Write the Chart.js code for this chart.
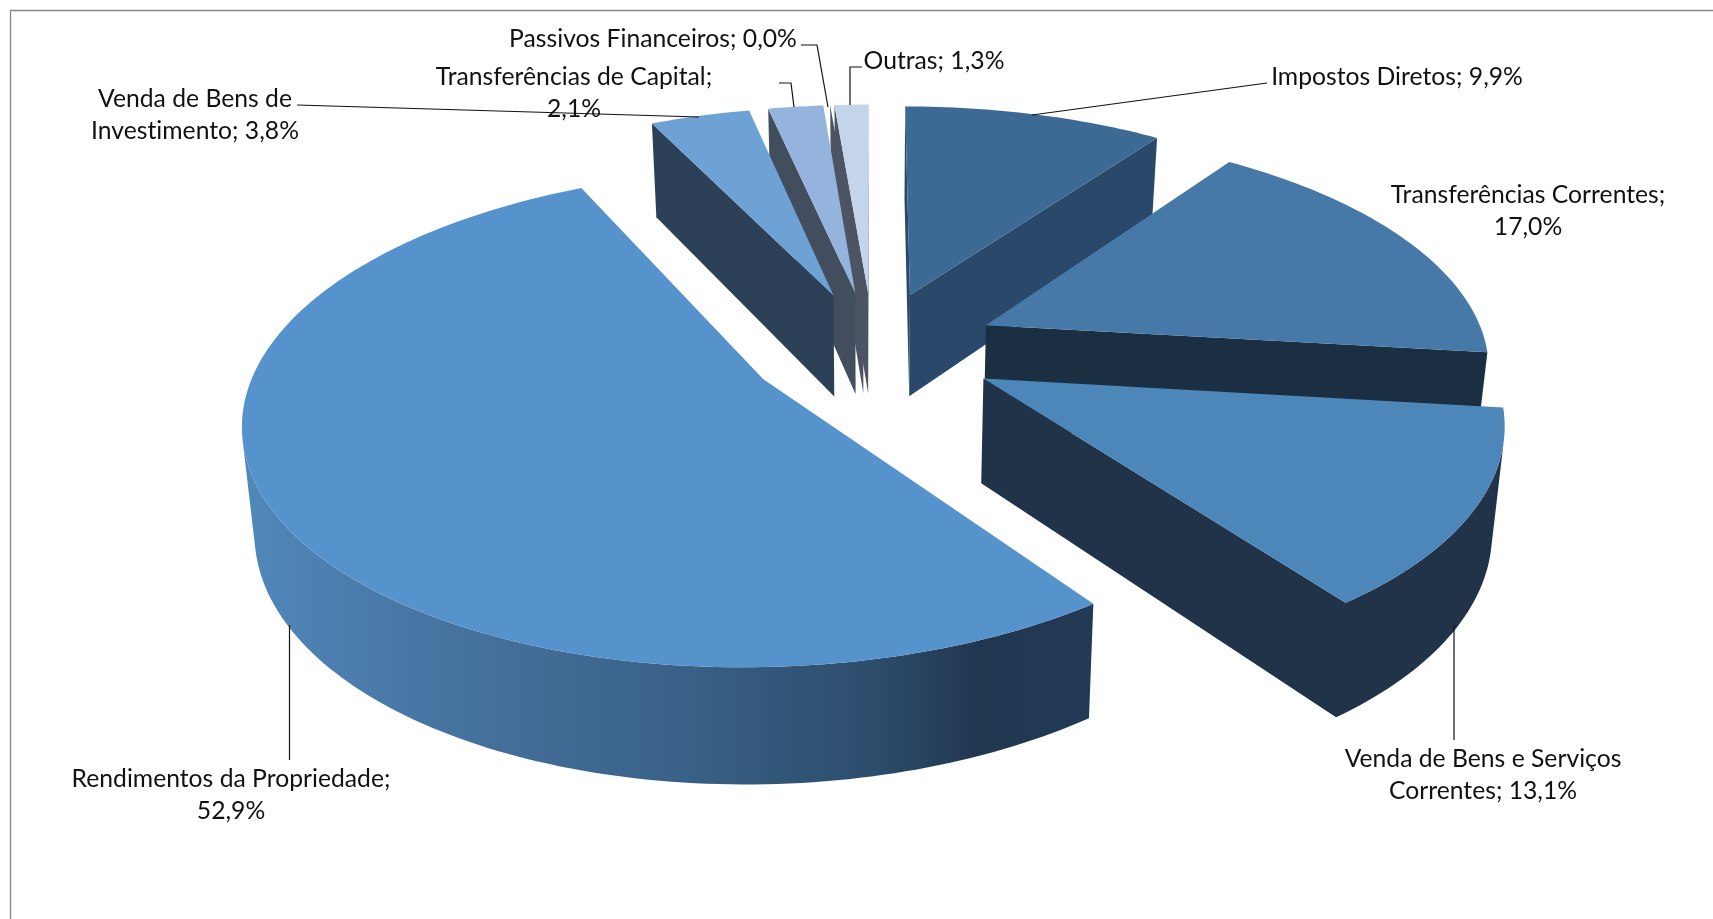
<!DOCTYPE html>
<html lang="pt">
<head>
<meta charset="utf-8">
<title>Receitas</title>
<script src="https://cdn.jsdelivr.net/npm/chart.js@4/dist/chart.umd.min.js"></script>
<style>
  html, body { margin: 0; padding: 0; background: #fff; overflow: hidden; }
  canvas { display: block; }
</style>
</head>
<body>
<canvas id="grafica" width="1713" height="919"></canvas>
<script>
// Dados
const categorias = ['Impostos Diretos', 'Transferências Correntes', 'Venda de Bens e Serviços Correntes', 'Rendimentos da Propriedade', 'Venda de Bens de Investimento', 'Transferências de Capital', 'Passivos Financeiros', 'Outras'];
const valores = [9.9, 17.0, 13.1, 52.9, 3.8, 2.1, 0.0, 1.3];
const coresTopo = ['#3c6a94', '#4678a8', '#4d86b9', '#5693cd', '#6ea1d4', '#94b4de', '#8a9ab0', '#c4d4ea'];
const coresLado = ['#2a4869', '#1a2f42', '#203349', '#223a55', '#2c4158', '#424e5e', '#4c5463', '#4c5463'];
const palavrasLinha1 = [9, 2, 5, 3, 4, 3, 9, 9];

// Projecao do plano da tarte (perspetiva a olho a partir da imagem)
const CX = 873, CY = 348.5, ESC_X = 501.6, ESC_Y = 233, PERSP = 0.155;
const ALT_BASE = 39, ALT_PERSP = 64.5, REDUZ_BASE = 0.98;
const ordemDesenho = [7, 6, 5, 4, 0, 1, 2, 3];

const posRotulos = [
    [1397, 77], [1528, 195], [1483, 759], [231, 779], [195, 99],
    [574, 77], [653, 39], [934, 61]
];
const guias = [
    [[1267, 83], [1032, 115]],
    [[1454, 625], [1454, 740]],
    [[289.5, 625], [289.5, 760]],
    [[297, 105], [699, 117]],
    [[779, 83], [791, 83], [794, 107]],
    [[801, 45], [817, 45], [828, 107]],
    [[862, 67], [850, 67], [850, 105]]
];

function projetar(u, v) {
    const s = 1 / (1 + PERSP * v);
    return { x: CX + ESC_X * u * s, y: CY - ESC_Y * v * s, s: s };
}

function base(p) {
    return { x: CX + (p.x - CX) * REDUZ_BASE, y: p.y + ALT_BASE + ALT_PERSP * p.s };
}

function contorno(arc) {
    const ini = arc.startAngle + Math.PI / 2;
    const fim = arc.endAngle + Math.PI / 2;
    const meio = (ini + fim) / 2;
    const e = arc.options.offset / 100;
    const ox = e * Math.sin(meio), oy = e * Math.cos(meio);
    const pts = [projetar(ox, oy)];
    const passos = Math.max(1, Math.ceil((fim - ini) / 0.02));
    for (let i = 0; i <= passos; i++) {
        const a = ini + (fim - ini) * i / passos;
        pts.push(projetar(ox + Math.sin(a), oy + Math.cos(a)));
    }
    return pts;
}

function gradienteLado(ctx) {
    const g = ctx.createLinearGradient(245, 0, 1090, 0);
    g.addColorStop(0, '#5088ba');
    g.addColorStop(0.25, '#46729f');
    g.addColorStop(0.5, '#3a6288');
    g.addColorStop(0.75, '#2c4c6b');
    g.addColorStop(0.87, '#213750');
    g.addColorStop(1, '#223a55');
    return g;
}

function viradaParaCamara(a, b) {
    const q = [a, b, base(b), base(a)];
    let area = 0;
    q.forEach((p, k) => {
        const n = q[(k + 1) % 4];
        area += p.x * n.y - n.x * p.y;
    });
    return area < 0;
}

function pintarFaixa(ctx, faixa) {
    ctx.beginPath();
    faixa.forEach((p, k) => k ? ctx.lineTo(p.x, p.y) : ctx.moveTo(p.x, p.y));
    faixa.slice().reverse().forEach(p => {
        const b = base(p);
        ctx.lineTo(b.x, b.y);
    });
    ctx.closePath();
    ctx.fill();
}

const tarte3d = {
    id: 'tarte3d',
    beforeDatasetsDraw(chart) {
        const ctx = chart.ctx;
        const meta = chart.getDatasetMeta(0);
        ctx.save();
        ordemDesenho.forEach(i => {
            const arc = meta.data[i];
            const pts = contorno(arc);
            ctx.fillStyle = i === 3 ? gradienteLado(ctx) : coresLado[i];
            // paredes: so as viradas para a camara, segmentos seguidos numa so faixa
            let faixa = null;
            for (let j = 0; j < pts.length; j++) {
                const a = pts[j], b = pts[(j + 1) % pts.length];
                if (viradaParaCamara(a, b)) {
                    if (!faixa) faixa = [a];
                    faixa.push(b);
                } else if (faixa) {
                    pintarFaixa(ctx, faixa);
                    faixa = null;
                }
            }
            if (faixa) pintarFaixa(ctx, faixa);
            // topo
            ctx.fillStyle = arc.options.backgroundColor;
            ctx.beginPath();
            pts.forEach((p, k) => k ? ctx.lineTo(p.x, p.y) : ctx.moveTo(p.x, p.y));
            ctx.closePath();
            ctx.fill();
        });
        ctx.restore();
        return false;
    },
    afterDraw(chart) {
        const ctx = chart.ctx;
        ctx.save();
        // moldura
        ctx.strokeStyle = '#888888';
        ctx.lineWidth = 1.3;
        ctx.beginPath();
        ctx.moveTo(10.5, 919);
        ctx.lineTo(10.5, 10.5);
        ctx.lineTo(1713, 10.5);
        ctx.stroke();
        // linhas de chamada
        ctx.strokeStyle = '#111111';
        ctx.lineWidth = 1.2;
        guias.forEach(g => {
            ctx.beginPath();
            g.forEach((p, k) => k ? ctx.lineTo(p[0], p[1]) : ctx.moveTo(p[0], p[1]));
            ctx.stroke();
        });
        // rotulos
        ctx.fillStyle = '#111111';
        ctx.font = '24.7px Lato';
        ctx.letterSpacing = '0.01px';
        ctx.textAlign = 'center';
        ctx.textBaseline = 'middle';
        categorias.forEach((cat, i) => {
            const txt = cat + '; ' + valores[i].toFixed(1).replace('.', ',') + '%';
            const pal = txt.split(' ');
            const linhas = [pal.slice(0, palavrasLinha1[i]).join(' ')];
            if (pal.length > palavrasLinha1[i]) linhas.push(pal.slice(palavrasLinha1[i]).join(' '));
            linhas.forEach((l, k) => {
                ctx.fillText(l, posRotulos[i][0], posRotulos[i][1] + k * 32);
            });
        });
        ctx.restore();
    }
};

new Chart(document.getElementById('grafica'), {
    type: 'pie',
    data: {
        labels: categorias,
        datasets: [{
            data: valores,
            backgroundColor: coresTopo,
            borderWidth: 0,
            offset: 25
        }]
    },
    options: {
        responsive: false,
        animation: false,
        rotation: 0,
        plugins: { legend: { display: false }, tooltip: { enabled: false } }
    },
    plugins: [tarte3d]
});
</script>
</body>
</html>
